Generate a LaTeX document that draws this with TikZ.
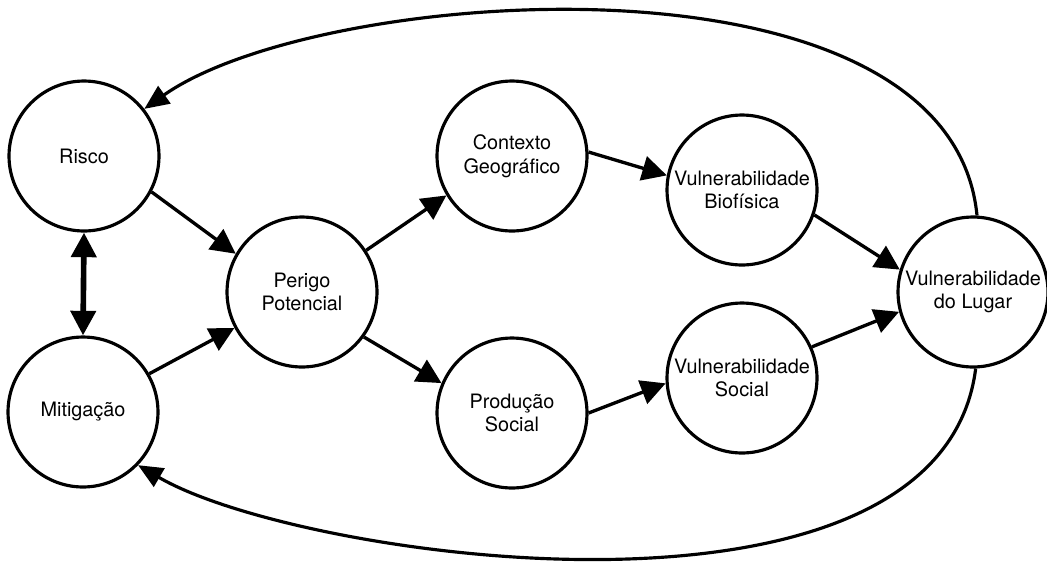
\documentclass[tikz,border=0pt]{standalone}
\usepackage{fontspec}
\setmainfont{TeX Gyre Heros}
\usetikzlibrary{arrows.meta}
\tikzset{
	circ/.style={circle,draw,line width=1.8pt,minimum size=3cm,inner sep=0pt,align=center,font=\fontsize{11.3}{13.5}\selectfont},
	arr/.style={-{Triangle[length=14pt,width=14pt]},line width=1.9pt},
	darr/.style={{Triangle[length=14pt,width=14pt]}-{Triangle[length=14pt,width=14pt]},line width=3.2pt},
	carr/.style={-{Triangle[length=14pt,width=12pt]},line width=1.8pt}
}

\begin{document}
\begin{tikzpicture}[x=0.02cm,y=-0.02cm]
	\useasboundingbox (0,0) rectangle (1047,569);
	\node [circ] (risco) at (84,156) {Risco};
	\node [circ] (mitig) at (83,412) {Mitigação};
	\node [circ] (perigo) at (302,292) {Perigo\\Potencial};
	\node [circ] (contexto) at (512,156) {Contexto\\Geográfico};
	\node [circ] (producao) at (512,413) {Produção\\Social};
	\node [circ] (vbio) at (742,190) {Vulnerabilidade\\Biofísica};
	\node [circ] (vsoc) at (742,378) {Vulnerabilidade\\Social};
	\node [circ] (vlugar) at (973,292) {Vulnerabilidade\\do Lugar};

	\draw [darr] (risco.south) -- (mitig.north);
	\draw [arr] (risco.-28) -- (perigo.150);
	\draw [arr] (mitig.30) -- (perigo.208);
	\draw [arr] (perigo.33) -- (contexto.211);
	\draw [arr] (perigo.-36) -- (producao.157);
	\draw [arr] (contexto.3) -- (vbio.169);
	\draw [arr] (producao.0) -- (vsoc.184);
	\draw [arr] (vbio.-19) -- (vlugar.163);
	\draw [arr] (vsoc.24) -- (vlugar.195);

	% retorno
	\draw [carr] (vlugar.87) .. controls (950,-60) and (320,-15) .. (risco.38);
	\draw [carr] (vlugar.-88) .. controls (940,650) and (300,560) .. (mitig.-44);
\end{tikzpicture}
\end{document}
